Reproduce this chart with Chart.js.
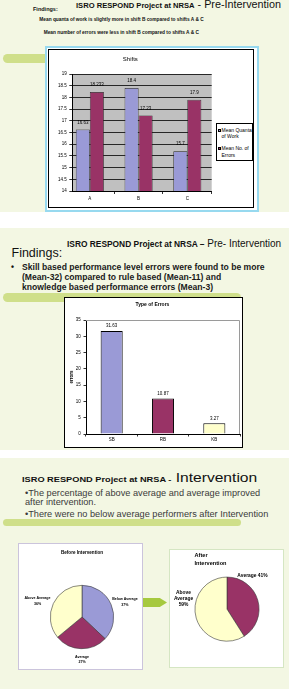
<!DOCTYPE html>
<html><head><meta charset="utf-8">
<script src="https://cdn.jsdelivr.net/npm/chart.js@4.4.1/dist/chart.umd.min.js"></script>
<style>
html,body{margin:0;padding:0;background:#fff;}
#page{position:relative;width:293px;height:689px;overflow:hidden;font-family:Arial,"Liberation Sans",sans-serif;color:#111;}
.panel{position:absolute;left:0;width:289px;background:#f3f7e3;}
.pill{position:absolute;background:#cfdf8a;border-radius:5px;}
.t{position:absolute;white-space:nowrap;}
.box{position:absolute;box-sizing:border-box;background:#fff;}
canvas{position:absolute;}
</style></head>
<body><div id="page">
<div class="panel" style="top:0;height:212px"></div>
<div class="panel" style="top:228px;height:222px"></div>
<div class="panel" style="top:458px;height:231px"></div>

<!-- panel 1 text -->
<div class="t" style="left:76px;top:-1px;font-size:10.8px;line-height:11px"><span style="font-weight:bold;font-size:7.6px">ISRO RESPOND Project at NRSA</span> - Pre-Intervention</div>
<div class="t" style="left:33px;top:6.3px;font:bold 5.5px/6px Arial,'Liberation Sans',sans-serif">Findings:</div>
<div class="t" style="left:39.3px;top:17.3px;font:bold 4.8px/6px Arial,'Liberation Sans',sans-serif">Mean quanta of work is slightly more in shift B compared to shifts A &amp; C</div>
<div class="t" style="left:43.7px;top:30.3px;font:bold 4.8px/6px Arial,'Liberation Sans',sans-serif">Mean number of errors were less in shift B compared to shifts A &amp; C</div>
<div class="pill" style="left:3px;top:54px;width:60px;height:9px"></div>

<!-- chart 1 frame -->
<div class="box" style="left:45px;top:46px;width:214px;height:166px;background:#97d9ef"></div>
<div class="box" style="left:47px;top:48px;width:210px;height:162px"></div>
<div class="box" style="left:48px;top:49px;width:206px;height:159px;border:1px solid #000"></div>
<canvas id="c1" width="204" height="157" style="left:49px;top:50px;width:204px;height:157px"></canvas>
<div id="lg1" class="box" style="left:216px;top:123px;width:37px;height:38px;border:1px solid #000"></div>

<!-- panel 2 text -->
<div class="t" style="left:67px;top:238.2px;font-size:10px;line-height:11px"><span style="font-weight:bold;font-size:8.4px">ISRO RESPOND Project at NRSA –</span> Pre- Intervention</div>
<div class="t" style="left:11.5px;top:247.2px;font:12.5px/13px Arial,'Liberation Sans',sans-serif">Findings:</div>
<div class="t" style="left:11px;top:261.5px;font:bold 8.6px/10px Arial,'Liberation Sans',sans-serif">•</div>
<div class="t" style="left:22px;top:261.5px;font:bold 8.6px/10px Arial,'Liberation Sans',sans-serif;color:#1a1a1a">Skill based performance level errors were found to be more<br>(Mean-32) compared to rule based (Mean-11) and<br>knowledge based performance errors (Mean-3)</div>
<div class="pill" style="left:3px;top:293px;width:238px;height:9px"></div>

<!-- chart 2 frame -->
<div class="box" style="left:64px;top:297px;width:179px;height:151px;border:1px solid #000"></div>
<canvas id="c2" width="177" height="149" style="left:65px;top:298px;width:177px;height:149px"></canvas>

<!-- panel 3 text -->
<div class="t" style="left:21.7px;top:470.5px;font-size:13px;line-height:14px;transform:scaleX(1.2);transform-origin:0 0"><span style="font-weight:bold;font-size:7.7px">ISRO RESPOND Project at NRSA -</span> Intervention</div>
<div class="t" style="left:25px;top:487.5px;font:9.2px/10px Arial,'Liberation Sans',sans-serif;color:#3a3a3a">•The percentage of above average and average improved</div>
<div class="t" style="left:25px;top:496.8px;font:9.2px/10px Arial,'Liberation Sans',sans-serif;color:#3a3a3a">after intervention.</div>
<div class="t" style="left:25px;top:508.8px;font:9.2px/10px Arial,'Liberation Sans',sans-serif;color:#3a3a3a">•There were no below average performers after Intervention</div>
<div class="pill" style="left:3px;top:518.5px;width:238px;height:7px"></div>

<!-- pies -->
<div class="box" style="left:18px;top:543px;width:125px;height:127px;border:1px solid #cbc4dc"></div>
<canvas id="c3" width="123" height="125" style="left:19px;top:544px;width:123px;height:125px"></canvas>
<div style="position:absolute;left:143px;top:598px;width:24px;height:9px;background:#a6c93f;clip-path:polygon(0 0,70% 0,100% 50%,70% 100%,0 100%)"></div>
<div class="box" style="left:169px;top:549px;width:115px;height:119px;border:1px solid #d5e6c3"></div>
<canvas id="c4" width="113" height="117" style="left:170px;top:550px;width:113px;height:117px"></canvas>
</div>

<script>
// ---------- data ----------
const shiftCategories = ['A', 'B', 'C'];
const shiftSeriesNames = ['Mean Quanta of Work', 'Mean No. of Errors'];
const meanQuantaOfWork = [16.63, 18.4, 15.7];
const meanNoOfErrors = [18.233, 17.23, 17.9];
const shiftAxisMin = 14, shiftAxisMax = 19, shiftAxisStep = 0.5;

const errorTypes = ['SB', 'RB', 'KB'];
const errorMeans = [31.63, 10.87, 3.27];
const errorAxisMin = 0, errorAxisMax = 35, errorAxisStep = 5;

const beforeCategories = ['Below Average', 'Average', 'Above Average'];
const beforePercent = [37, 27, 36];
const afterCategories = ['Average', 'Above Average'];
const afterPercent = [41, 59];

// ---------- styles ----------
const BLUE = '#9a9ad6', MAROON = '#993366', YELLOW = '#ffffcc';
const FONT = 'Arial, "Liberation Sans", sans-serif';
Chart.defaults.font.family = FONT;
Chart.defaults.color = '#000';

// ---------- plugins ----------
const plotBg = {
  id: 'plotBg',
  beforeDraw(chart, args, opts) {
    if (!opts || !opts.color) return;
    const a = chart.chartArea, ctx = chart.ctx;
    ctx.save(); ctx.fillStyle = opts.color;
    ctx.fillRect(a.left, a.top, a.right - a.left, a.bottom - a.top);
    ctx.restore();
  }
};
const plotFrame = {
  id: 'plotFrame',
  beforeDatasetsDraw(chart, args, opts) {
    if (!opts || !opts.color) return;
    const a = chart.chartArea, ctx = chart.ctx;
    ctx.save(); ctx.strokeStyle = opts.color; ctx.lineWidth = 1;
    ctx.beginPath();
    ctx.moveTo(a.left, Math.round(a.top) + 0.5);
    ctx.lineTo(Math.round(a.right) - 0.5, Math.round(a.top) + 0.5);
    ctx.lineTo(Math.round(a.right) - 0.5, a.bottom);
    ctx.stroke(); ctx.restore();
  }
};
const valueLabels = {
  id: 'valueLabels',
  afterDatasetsDraw(chart, args, opts) {
    if (!opts || !opts.display) return;
    const ctx = chart.ctx;
    ctx.save(); ctx.font = opts.font; ctx.fillStyle = '#000';
    ctx.textAlign = 'center'; ctx.textBaseline = 'middle';
    chart.data.datasets.forEach((ds, di) => {
      chart.getDatasetMeta(di).data.forEach((el, i) => {
        const v = ds.data[i];
        const val = (typeof v === 'object') ? v.y : v;
        ctx.fillText(String(val), el.x, el.y - opts.offset);
      });
    });
    ctx.restore();
  }
};
const pieLabels = {
  id: 'pieLabels',
  afterDatasetsDraw(chart, args, opts) {
    if (!opts || !opts.anchors) return;
    const ctx = chart.ctx;
    ctx.save(); ctx.font = opts.font; ctx.fillStyle = '#000';
    ctx.textAlign = 'center'; ctx.textBaseline = 'middle';
    chart.getDatasetMeta(0).data.forEach((arc, i) => {
      const deg = opts.anchors[i][0], d = opts.anchors[i][1];
      const r = deg * Math.PI / 180;
      const cx = arc.x + d * Math.sin(r), cy = arc.y - d * Math.cos(r);
      const lines = opts.texts[i];
      lines.forEach((ln, k) => ctx.fillText(ln, cx, cy + (k - (lines.length - 1) / 2) * opts.lineHeight));
    });
    ctx.restore();
  }
};
Chart.register(plotBg, plotFrame, valueLabels, pieLabels);

const common = { responsive: false, animation: false, devicePixelRatio: 1, events: [] };

// ---------- chart 1: Shifts ----------
new Chart(document.getElementById('c1'), {
  type: 'bar',
  data: {
    datasets: [
      { label: shiftSeriesNames[0], data: shiftCategories.map((c, i) => ({ x: i, y: meanQuantaOfWork[i] })),
        backgroundColor: BLUE, borderColor: '#222', borderWidth: 0.7, categoryPercentage: 0.575, barPercentage: 1 },
      { label: shiftSeriesNames[1], data: shiftCategories.map((c, i) => ({ x: i, y: meanNoOfErrors[i] })),
        backgroundColor: MAROON, borderColor: '#222', borderWidth: 0.7, categoryPercentage: 0.575, barPercentage: 1 }
    ]
  },
  options: Object.assign({}, common, {
    layout: { padding: { left: 0, right: 41.3, top: 0, bottom: 0 } },
    plugins: {
      legend: { display: false }, tooltip: { enabled: false },
      title: { display: true, text: 'Shifts', font: { size: 6, weight: 'normal' }, color: '#000', padding: { top: 5.4, bottom: 11.4 } },
      plotBg: { color: '#c0c0c0' },
      valueLabels: { display: true, offset: 7, font: '4.5px ' + FONT }
    },
    scales: {
      x: {
        type: 'linear', min: -0.36, max: 2.5, offset: false,
        afterBuildTicks: s => { s.ticks = shiftCategories.map((c, i) => ({ value: i })); },
        afterFit: s => { s.height = 16; },
        ticks: { callback: v => shiftCategories[v], font: { size: 4.5 }, color: '#000', padding: 2.3, maxRotation: 0, autoSkip: false },
        grid: { offset: true, drawOnChartArea: false, tickLength: 3, color: '#000', lineWidth: 0.8 },
        border: { color: '#000', width: 1 }
      },
      y: {
        min: shiftAxisMin, max: shiftAxisMax,
        afterFit: s => { s.width = 23.3; },
        ticks: { stepSize: shiftAxisStep, font: { size: 4.5 }, color: '#000', padding: 2.6, callback: v => String(Math.round(v * 10) / 10) },
        grid: { color: '#000', lineWidth: 0.8, tickLength: 3 },
        border: { color: '#000', width: 1 }
      }
    }
  })
});

// HTML legend for chart 1, built from the series names
(function () {
  const lg = document.getElementById('lg1');
  const cols = [BLUE, MAROON];
  const tops = [2.8, 21.1];
  shiftSeriesNames.forEach((name, i) => {
    const sq = document.createElement('div');
    sq.style.cssText = 'position:absolute;left:1.3px;top:' + (tops[i] + 1.7) + 'px;width:3px;height:3px;box-sizing:border-box;border:0.5px solid #000;background:' + cols[i];
    lg.appendChild(sq);
    const tx = document.createElement('div');
    tx.style.cssText = 'position:absolute;left:4.5px;top:' + tops[i] + 'px;width:31.5px;font:5px/6.6px ' + FONT + ';color:#000';
    tx.textContent = name;
    lg.appendChild(tx);
  });
})();

// ---------- chart 2: Type of Errors ----------
new Chart(document.getElementById('c2'), {
  type: 'bar',
  data: {
    labels: errorTypes,
    datasets: [{ label: 'errors', data: errorMeans, backgroundColor: [BLUE, MAROON, YELLOW],
      borderColor: '#000', borderWidth: 1, categoryPercentage: 1, barPercentage: 0.43 }]
  },
  options: Object.assign({}, common, {
    layout: { padding: { left: 0, right: 2, top: 0, bottom: 0 } },
    plugins: {
      legend: { display: false }, tooltip: { enabled: false },
      title: { display: true, text: 'Type of Errors', font: { size: 5, weight: 'bold' }, color: '#000', padding: { top: 4, bottom: 12 } },
      plotFrame: { color: '#9a9a9a' },
      valueLabels: { display: true, offset: 5, font: '4.5px ' + FONT }
    },
    scales: {
      x: {
        afterFit: s => { s.height = 13; },
        ticks: { font: { size: 4.5 }, color: '#000', padding: 0.8, maxRotation: 0 },
        grid: { offset: true, drawOnChartArea: false, tickLength: 2.5, color: '#000', lineWidth: 0.8 },
        border: { color: '#000', width: 1 }
      },
      y: {
        min: errorAxisMin, max: errorAxisMax,
        afterFit: s => { s.width = 21; },
        title: { display: true, text: 'errors', font: { size: 4.5, weight: 'bold' }, color: '#000', padding: { top: 4.3, bottom: 0 } },
        ticks: { stepSize: errorAxisStep, font: { size: 4.5 }, color: '#000', padding: 2.8 },
        grid: { drawOnChartArea: false, tickLength: 2.5, color: '#000', lineWidth: 0.8 },
        border: { color: '#000', width: 1 }
      }
    }
  })
});

// ---------- chart 3: Before Intervention ----------
new Chart(document.getElementById('c3'), {
  type: 'pie',
  data: {
    labels: beforeCategories,
    datasets: [{ data: beforePercent, backgroundColor: [BLUE, MAROON, YELLOW], borderColor: '#3a3a3a', borderWidth: 0.6 }]
  },
  options: Object.assign({}, common, {
    layout: { padding: { left: 31, right: 28, top: 0, bottom: 20 } },
    plugins: {
      legend: { display: false }, tooltip: { enabled: false },
      title: { display: true, text: 'Before Intervention', font: { size: 4.6, weight: 'bold' }, color: '#000', padding: { top: 6.2, bottom: 29.3 } },
      pieLabels: {
        anchors: [[70.8, 45.5], [180, 42.5], [289.8, 47.3]],
        texts: beforeCategories.map((c, i) => [c, beforePercent[i] + '%']),
        font: 'bold 3.6px ' + FONT, lineHeight: 5.7
      }
    }
  })
});

// ---------- chart 4: After Intervention ----------
new Chart(document.getElementById('c4'), {
  type: 'pie',
  data: {
    labels: afterCategories,
    datasets: [{ data: afterPercent, backgroundColor: [MAROON, YELLOW], borderColor: '#3a3a3a', borderWidth: 0.6 }]
  },
  options: Object.assign({}, common, {
    layout: { padding: { left: 24.5, right: 23.5, top: 0, bottom: 25.5 } },
    plugins: {
      legend: { display: false }, tooltip: { enabled: false },
      title: { display: true, text: ['After', 'Intervention'], align: 'start', font: { size: 5.6, weight: 'bold', lineHeight: 1.4 }, color: '#000', padding: { top: 1.2, bottom: 9.9 } },
      pieLabels: {
        anchors: [[37.7, 41.7], [283, 44.6]],
        texts: [[afterCategories[0] + ' ' + afterPercent[0] + '%'], afterCategories[1].split(' ').concat([afterPercent[1] + '%'])],
        font: 'bold 4.9px ' + FONT, lineHeight: 6
      }
    }
  })
});
</script>
</body></html>
